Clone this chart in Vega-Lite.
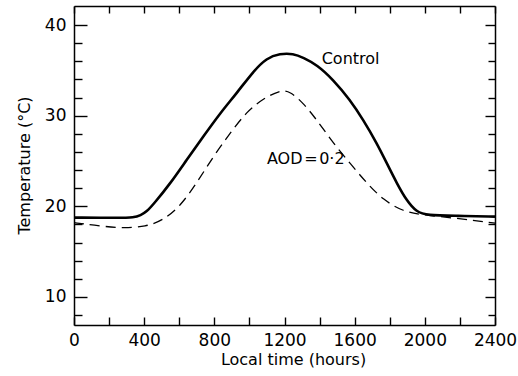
{
  "$schema": "https://vega.github.io/schema/vega-lite/v6.json",
  "width": 421,
  "height": 319,
  "autosize": {"type": "none"},
  "padding": {"left": 74, "top": 6, "right": 23, "bottom": 51},
  "background": "white",
  "config": {
    "view": {"stroke": null},
    "font": "DejaVu Sans",
    "axis": {
      "grid": false,
      "domainColor": "black",
      "domainWidth": 1.5,
      "tickColor": "black",
      "tickWidth": 1.4,
      "labelColor": "black",
      "titleColor": "black",
      "labelFont": "DejaVu Sans",
      "titleFont": "DejaVu Sans",
      "labelFontSize": 17,
      "titleFontSize": 16,
      "titleFontWeight": "normal",
      "labelFlush": false,
      "labelOverlap": false
    }
  },
  "datasets": {
    "control": [
      {"time": 0, "temp": 18.75},
      {"time": 262, "temp": 18.72},
      {"time": 340, "temp": 18.76},
      {"time": 380, "temp": 19.0},
      {"time": 414, "temp": 19.41},
      {"time": 452, "temp": 20.2},
      {"time": 547, "temp": 22.46},
      {"time": 642, "temp": 25.12},
      {"time": 737, "temp": 27.7},
      {"time": 833, "temp": 30.28},
      {"time": 928, "temp": 32.49},
      {"time": 1022, "temp": 34.88},
      {"time": 1098, "temp": 36.36},
      {"time": 1174, "temp": 36.85},
      {"time": 1250, "temp": 36.85},
      {"time": 1307, "temp": 36.4},
      {"time": 1384, "temp": 35.62},
      {"time": 1478, "temp": 33.96},
      {"time": 1573, "temp": 31.75},
      {"time": 1649, "temp": 29.54},
      {"time": 1726, "temp": 26.97},
      {"time": 1783, "temp": 24.76},
      {"time": 1840, "temp": 22.55},
      {"time": 1897, "temp": 20.6},
      {"time": 1954, "temp": 19.35},
      {"time": 2011, "temp": 19.0},
      {"time": 2182, "temp": 18.95},
      {"time": 2400, "temp": 18.86}
    ],
    "aod": [
      {"time": 0, "temp": 18.19},
      {"time": 110, "temp": 17.94},
      {"time": 262, "temp": 17.55},
      {"time": 414, "temp": 17.75},
      {"time": 509, "temp": 18.49},
      {"time": 604, "temp": 19.96},
      {"time": 699, "temp": 22.55},
      {"time": 794, "temp": 25.49},
      {"time": 890, "temp": 28.07},
      {"time": 985, "temp": 30.46},
      {"time": 1080, "temp": 31.9},
      {"time": 1174, "temp": 32.8},
      {"time": 1231, "temp": 32.7},
      {"time": 1307, "temp": 31.39},
      {"time": 1384, "temp": 29.54},
      {"time": 1478, "temp": 26.97},
      {"time": 1573, "temp": 24.76},
      {"time": 1669, "temp": 22.55},
      {"time": 1763, "temp": 20.7},
      {"time": 1877, "temp": 19.41},
      {"time": 1991, "temp": 19.04},
      {"time": 2182, "temp": 18.68},
      {"time": 2333, "temp": 18.3},
      {"time": 2400, "temp": 18.13}
    ],
    "labels": [
      {"time": 1412, "temp": 36.28, "label": "Control"},
      {"time": 1100, "temp": 25.23, "label": "AOD\u200a=\u200a0·2"}
    ]
  },
  "layer": [
    {
      "data": {"name": "control"},
      "mark": {"type": "line", "color": "black", "strokeWidth": 2.6, "interpolate": "basis"},
      "encoding": {
        "x": {
          "field": "time", "type": "quantitative",
          "scale": {"domain": [0, 2400], "nice": false},
          "axis": {
            "orient": "bottom",
            "title": "Local time (hours)",
            "values": [0, 200, 400, 600, 800, 1000, 1200, 1400, 1600, 1800, 2000, 2200, 2400],
            "format": "d",
            "labelExpr": "datum.value % 400 === 0 ? datum.label : ''",
            "tickSize": -8,
            "labelPadding": 15,
            "titleX": 219,
            "titleY": 34,
            "titleBaseline": "middle"
          }
        },
        "y": {
          "field": "temp", "type": "quantitative",
          "scale": {"domain": [6.9, 42.1], "nice": false, "zero": false},
          "axis": {
            "orient": "left",
            "title": "Temperature (°C)",
            "values": [8, 10, 12, 14, 16, 18, 20, 22, 24, 26, 28, 30, 32, 34, 36, 38, 40],
            "labelExpr": "datum.value % 10 === 0 ? datum.label : ''",
            "tickSize": {"condition": {"test": "datum.value % 10 === 0", "value": -13}, "value": -8},
            "labelPadding": 21,
            "titleX": -50,
            "titleY": 159,
            "titleBaseline": "middle"
          }
        }
      }
    },
    {
      "data": {"name": "aod"},
      "mark": {"type": "line", "color": "black", "strokeWidth": 1.3, "strokeDash": [10, 6], "interpolate": "basis"},
      "encoding": {
        "x": {
          "field": "time", "type": "quantitative",
          "axis": {
            "orient": "top",
            "title": null,
            "labels": false,
            "values": [0, 200, 400, 600, 800, 1000, 1200, 1400, 1600, 1800, 2000, 2200, 2400],
            "tickSize": -7
          }
        },
        "y": {
          "field": "temp", "type": "quantitative",
          "axis": {
            "orient": "right",
            "title": null,
            "labels": false,
            "values": [8, 10, 12, 14, 16, 18, 20, 22, 24, 26, 28, 30, 32, 34, 36, 38, 40],
            "tickSize": {"condition": {"test": "datum.value % 10 === 0", "value": -10}, "value": -7}
          }
        }
      }
    },
    {
      "data": {"name": "labels"},
      "mark": {"type": "text", "align": "left", "baseline": "middle", "fontSize": 16, "color": "black", "font": "DejaVu Sans"},
      "encoding": {
        "x": {"field": "time", "type": "quantitative", "axis": null},
        "y": {"field": "temp", "type": "quantitative", "axis": null},
        "text": {"field": "label"}
      }
    }
  ],
  "resolve": {"axis": {"x": "independent", "y": "independent"}}
}
